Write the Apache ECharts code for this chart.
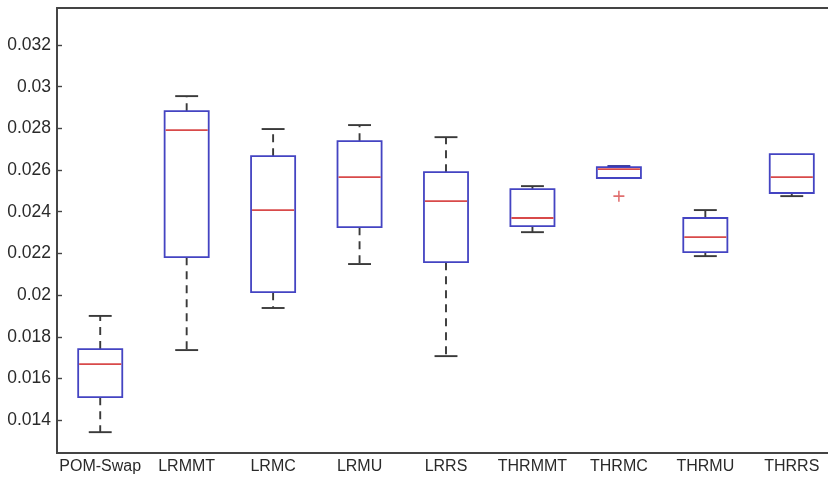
<!DOCTYPE html>
<html><head><meta charset="utf-8">
<script src="https://cdn.jsdelivr.net/npm/echarts@6/dist/echarts.min.js"></script>
<style>html,body{margin:0;padding:0;background:#fff}#c{width:828px;height:479px}</style>
</head><body><div id="c"></div>
<script>
const categories = ['POM-Swap','LRMMT','LRMC','LRMU','LRRS','THRMMT','THRMC','THRMU','THRRS'];
const whiskerLow  = [0.01342,0.01736,0.01938,0.02149,0.01707,0.02302,0.02562,0.02187,0.02475];
const q1          = [0.01510,0.02182,0.02014,0.02326,0.02158,0.02331,0.02562,0.02206,0.02490];
const median      = [0.01669,0.02792,0.02408,0.02566,0.02451,0.02370,0.02605,0.02278,0.02566];
const q3          = [0.01741,0.02883,0.02667,0.02739,0.02590,0.02509,0.02614,0.02370,0.02677];
const whiskerHigh = [0.01900,0.02955,0.02797,0.02816,0.02758,0.02523,0.02619,0.02408,0.02677];
const outliers    = [[6, 0.02475]];
const yTicks = [0.014,0.016,0.018,0.02,0.022,0.024,0.026,0.028,0.03,0.032];
const yMin = 0.01242, yMax = 0.03378;

const BLUE = '#4444c2', RED = '#d84a4a', WH = '#3a3a3a', AX = '#444';
const boxData = categories.map((c,i)=>[i, whiskerLow[i], q1[i], median[i], q3[i], whiskerHigh[i]]);

function renderBox(params, api){
  const i = api.value(0);
  const pLo = api.coord([i, api.value(1)]);
  const pQ1 = api.coord([i, api.value(2)]);
  const pMd = api.coord([i, api.value(3)]);
  const pQ3 = api.coord([i, api.value(4)]);
  const pHi = api.coord([i, api.value(5)]);
  const cx = pMd[0];
  const band = api.size([1,0])[0];
  const bw = band*0.51, cw = bw*0.52;
  const kids = [];
  if (pHi[1] < pQ3[1]-0.5){
    kids.push({type:'line',shape:{x1:cx,y1:pQ3[1],x2:cx,y2:pHi[1]},style:{stroke:WH,lineWidth:1.9,lineDash:[8,6]}});
  }
  if (pHi[1] < pQ3[1]-0.5 || i===6){
    kids.push({type:'line',shape:{x1:cx-cw/2,y1:pHi[1],x2:cx+cw/2,y2:pHi[1]},style:{stroke:i===6?'#1a1a8a':WH,lineWidth:1.9}});
  }
  if (pLo[1] > pQ1[1]+0.5){
    kids.push({type:'line',shape:{x1:cx,y1:pQ1[1],x2:cx,y2:pLo[1]},style:{stroke:WH,lineWidth:1.9,lineDash:[8,6]}});
    kids.push({type:'line',shape:{x1:cx-cw/2,y1:pLo[1],x2:cx+cw/2,y2:pLo[1]},style:{stroke:WH,lineWidth:1.9}});
  }
  kids.push({type:'rect',shape:{x:cx-bw/2,y:pQ3[1],width:bw,height:pQ1[1]-pQ3[1]},style:{fill:'none',stroke:BLUE,lineWidth:1.8}});
  kids.push({type:'line',shape:{x1:cx-bw/2+1,y1:pMd[1],x2:cx+bw/2-1,y2:pMd[1]},style:{stroke:RED,lineWidth:1.8}});
  return {type:'group',children:kids};
}

const chart = echarts.init(document.getElementById('c'), null, {renderer:'canvas'});
chart.setOption({
  animation:false,
  backgroundColor:'#fff',
  grid:{left:57,top:8,right:-7,bottom:26,show:true,borderColor:AX,borderWidth:1.8,backgroundColor:'#fff',
    containLabel:false,outerBoundsMode:'none'},
  xAxis:[{type:'category',data:categories,boundaryGap:true,
    axisLine:{show:true,lineStyle:{color:AX,width:1.8}},axisTick:{show:false},
    axisLabel:{color:'#2a2a2a',fontSize:16,fontFamily:'Liberation Sans, Arial, sans-serif',margin:6,interval:0,hideOverlap:false},
    splitLine:{show:false}}],
  yAxis:[{type:'value',min:yMin,max:yMax,position:'left',
    axisLine:{show:true,lineStyle:{color:AX,width:1.8}},
    axisTick:{show:true,inside:true,length:5,customValues:yTicks,lineStyle:{color:AX,width:1.4}},
    axisLabel:{color:'#2a2a2a',fontSize:17.5,fontFamily:'Liberation Sans, Arial, sans-serif',margin:6,customValues:yTicks},
    splitLine:{show:false}},
    {type:'value',min:yMin,max:yMax,position:'right',
    axisLine:{show:true,lineStyle:{color:AX,width:1.8}},
    axisTick:{show:true,inside:true,length:5,customValues:yTicks,lineStyle:{color:AX,width:1.4}},
    axisLabel:{show:false},splitLine:{show:false}}],
  series:[
    {type:'custom',renderItem:renderBox,data:boxData,encode:{x:0,y:[1,2,3,4,5]},yAxisIndex:0},
    {type:'scatter',data:outliers,symbol:'path://M4.3,0H5.7V4.3H10V5.7H5.7V10H4.3V5.7H0V4.3H4.3Z',symbolSize:11,itemStyle:{color:RED}}
  ]
});
</script></body></html>
